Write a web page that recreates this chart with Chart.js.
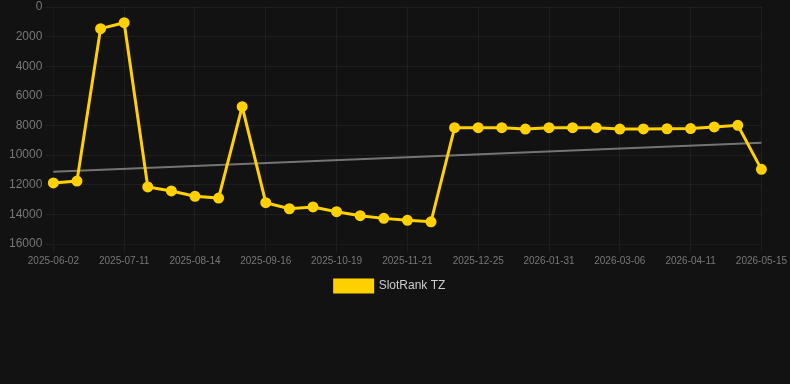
<!DOCTYPE html>
<html>
<head>
<meta charset="utf-8">
<script src="https://cdn.jsdelivr.net/npm/chart.js@4/dist/chart.umd.min.js"></script>
<style>
  html, body { margin: 0; padding: 0; background: #121212; }
  #wrap { width: 790px; height: 384px; position: relative; }
</style>
</head>
<body>
<div id="wrap"><canvas id="chart"></canvas></div>
<script>
// dates on the x axis (only every 3rd one is shown by autoSkip)
const dates = [
  "2025-06-02", "2025-06-15", "2025-06-28", "2025-07-11", "2025-07-22", "2025-08-03",
  "2025-08-14", "2025-08-25", "2025-09-05", "2025-09-16", "2025-09-27", "2025-10-08",
  "2025-10-19", "2025-10-30", "2025-11-10", "2025-11-21", "2025-12-03", "2025-12-14",
  "2025-12-25", "2026-01-06", "2026-01-18", "2026-01-31", "2026-02-11", "2026-02-23",
  "2026-03-06", "2026-03-18", "2026-03-30", "2026-04-11", "2026-04-22", "2026-05-03",
  "2026-05-15"
];

// rank values
const rankTZ = [
  11880, 11750, 1460, 1060, 12150, 12420, 12780, 12900, 6730, 13210,
  13620, 13500, 13820, 14090, 14270, 14400, 14500, 8150, 8150, 8150,
  8240, 8150, 8150, 8150, 8240, 8230, 8220, 8210, 8100, 7990,
  10960
];

// trend line end points (first and last date)
const trendStart = 11120;
const trendEnd = 9160;
const trend = dates.map((d, i) => i === 0 ? trendStart : (i === dates.length - 1 ? trendEnd : null));

const yTicksMin = 0;
const yTicksMax = 16000;
const yTicksStep = 2000;

const yellow = "#ffd100";
const font = "Liberation Sans, Arial, sans-serif";

new Chart(document.getElementById("chart"), {
  type: "line",
  data: {
    labels: dates,
    datasets: [
      {
        label: "SlotRank TZ",
        data: rankTZ,
        borderColor: yellow,
        backgroundColor: yellow,
        pointBackgroundColor: yellow,
        pointBorderColor: yellow,
        borderWidth: 3,
        pointRadius: 4,
        tension: 0,
        fill: false,
      },
      {
        label: "trend",
        data: trend,
        borderColor: "rgba(150,150,150,0.75)",
        borderWidth: 2,
        pointRadius: 0,
        spanGaps: true,
        fill: false,
      },
    ],
  },
  options: {
    responsive: true,
    maintainAspectRatio: false,
    animation: false,
    layout: { padding: { left: 6, right: 16, bottom: 82 } },
    plugins: {
      legend: {
        position: "bottom",
        labels: {
          color: "#cccccc",
          boxWidth: 38,
          font: { family: font, size: 12 },
          filter: (item) => item.text !== "trend",
        },
      },
      tooltip: { enabled: false },
    },
    scales: {
      x: {
        offset: false,
        grid: { color: "rgba(255,255,255,0.05)" },
        ticks: {
          color: "#777777",
          maxRotation: 0,
          font: { family: font, size: 10 },
        },
      },
      y: {
        reverse: true,
        min: yTicksMin,
        max: yTicksMax,
        grid: { color: "rgba(255,255,255,0.05)" },
        ticks: {
          stepSize: yTicksStep,
          color: "#777777",
          font: { family: font, size: 12, lineHeight: 0.5 },
          callback: (v) => String(v),
        },
      },
    },
  },
});
</script>
</body>
</html>
